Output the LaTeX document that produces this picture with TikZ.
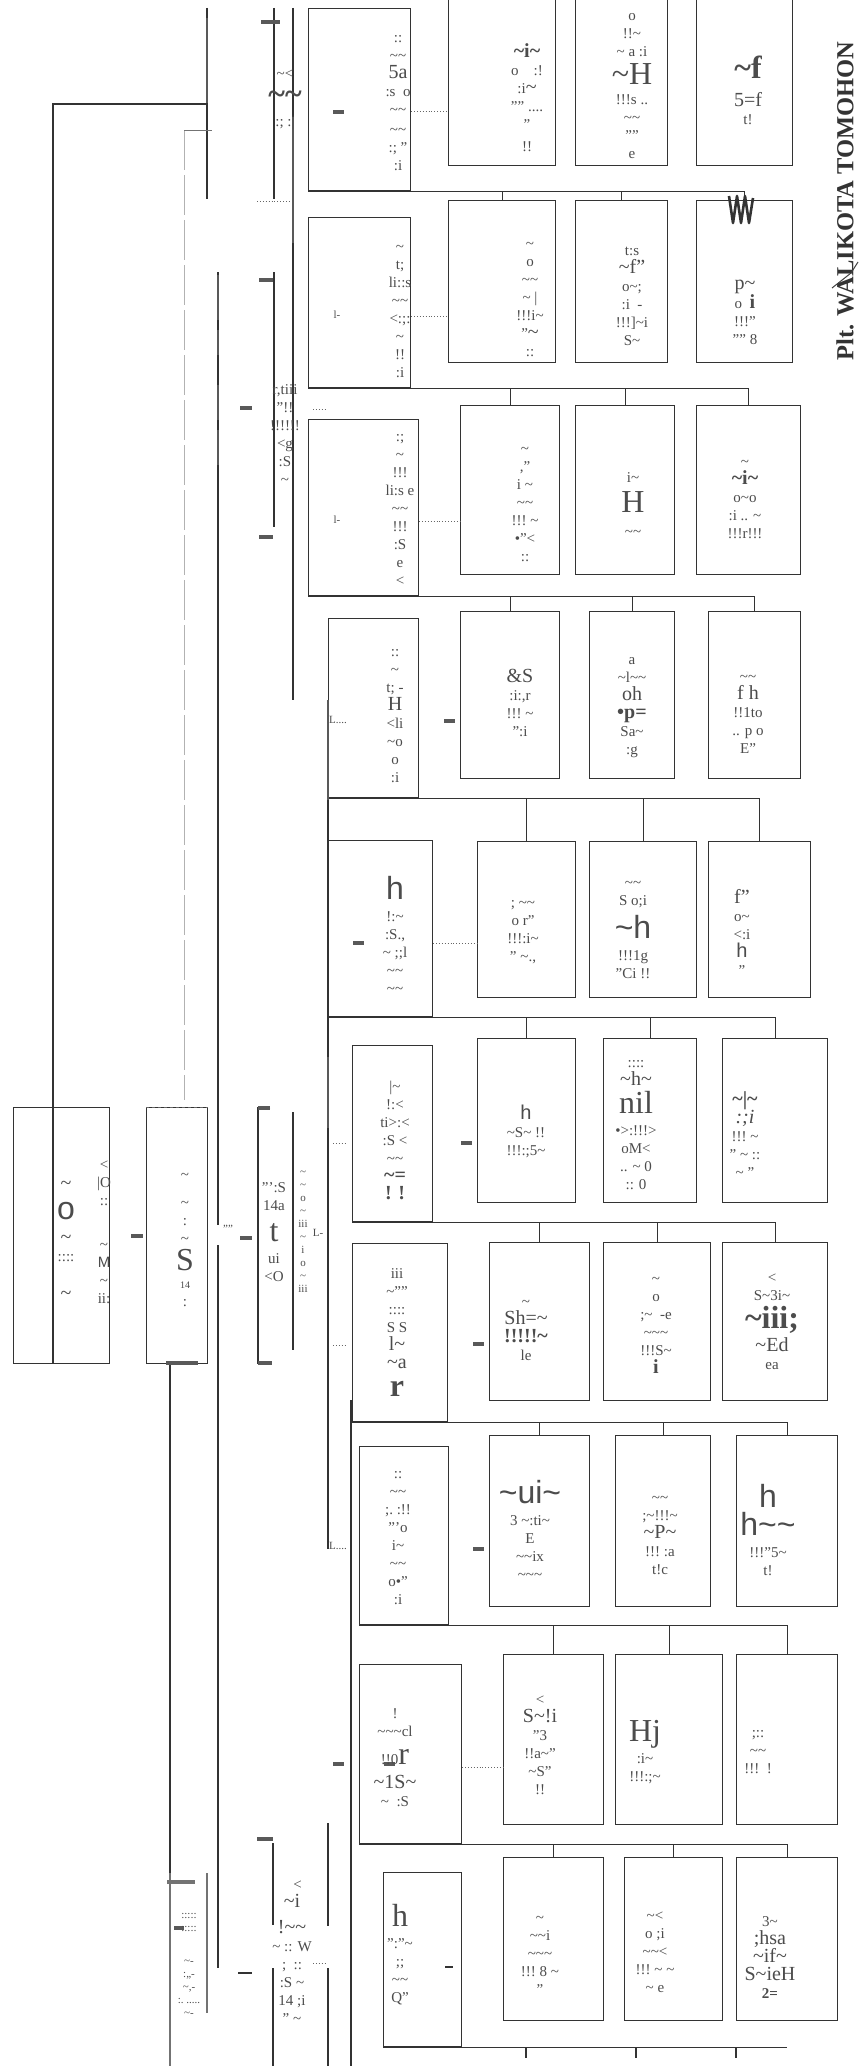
\documentclass[tikz,border=0pt]{standalone}
\usepackage{fontspec}
\setmainfont{Liberation Serif}
\setsansfont{Liberation Sans}
\usetikzlibrary{calc}
\newcommand\tld{\textasciitilde}
\newcommand\Bgg[1]{{\fontsize{32}{34}\selectfont #1}}
\newcommand\Mdd[1]{{\fontsize{20}{22}\selectfont #1}}
\newcommand\bxn[5]{\node[bx,minimum width={(#4-#2)*1pt},minimum height={(#5-#3)*1pt}] (#1) at (#2,#3) {};}
\begin{document}
\begin{tikzpicture}[x=1pt,y=-1pt,
 bx/.style={draw=black!80,line width=1.1pt,inner sep=0,anchor=north west},
 ln/.style={draw=black!80,line width=1.1pt},
 gln/.style={draw=black!55,line width=1.1pt},
 thk/.style={draw=black!65,line width=3.5pt},
 dots/.style={draw=black!60,line width=0.9pt,dotted},
 gdash/.style={draw=black!30,line width=1pt,dash pattern=on 40pt off 5pt},
 txt/.style={text=black!70,align=center,inner sep=0,font=\fontsize{15}{18}\selectfont},
 stxt/.style={text=black!70,align=center,inner sep=0,font=\fontsize{11}{13}\selectfont},
]
\fill[white] (0,0) rectangle (859,2066);
\useasboundingbox (0,0) rectangle (859,2066);

% ---------- row header boxes
\bxn{E1}{308}{8}{410}{190}
\bxn{E2}{308}{217}{410}{387}
\bxn{E3}{308}{419}{418}{595}
\bxn{E4}{328}{618}{418}{797}
\bxn{E5}{328}{840}{432}{1016}
\bxn{E6}{352}{1045}{432}{1221}
\bxn{E7}{352}{1243}{447}{1421}
\bxn{E8}{359}{1446}{448}{1624}
\bxn{E9}{359}{1664}{461}{1843}
\bxn{E10}{383}{1872}{461}{2046}
% ---------- unit boxes
\bxn{F1}{448}{-3}{555}{165}\bxn{G1}{575}{-3}{667}{165}\bxn{H1}{696}{-3}{792}{165}
\bxn{F2}{448}{200}{555}{362}\bxn{G2}{575}{200}{667}{362}\bxn{H2}{696}{200}{792}{362}
\bxn{F3}{460}{405}{559}{574}\bxn{G3}{575}{405}{674}{574}\bxn{H3}{696}{405}{800}{574}
\bxn{F4}{460}{611}{559}{778}\bxn{G4}{589}{611}{674}{778}\bxn{H4}{708}{611}{800}{778}
\bxn{F5}{477}{841}{575}{997}\bxn{G5}{589}{841}{696}{997}\bxn{H5}{708}{841}{810}{997}
\bxn{F6}{477}{1038}{575}{1202}\bxn{G6}{603}{1038}{696}{1202}\bxn{H6}{722}{1038}{827}{1202}
\bxn{F7}{489}{1242}{589}{1400}\bxn{G7}{603}{1242}{710}{1400}\bxn{H7}{722}{1242}{827}{1400}
\bxn{F8}{489}{1435}{589}{1606}\bxn{G8}{615}{1435}{710}{1606}\bxn{H8}{736}{1435}{837}{1606}
\bxn{F9}{503}{1654}{603}{1824}\bxn{G9}{615}{1654}{722}{1824}\bxn{H9}{736}{1654}{837}{1824}
\bxn{F10}{503}{1857}{603}{2020}\bxn{G10}{624}{1857}{722}{2020}\bxn{H10}{736}{1857}{837}{2020}

% ---------- buses under each row, ticks to next row
\foreach \a/\b in {1/2,2/3,3/4,4/5,5/6,6/7,7/8,8/9,9/10}{
  \draw[ln] (E\a.south west) -- (E\a.south west -| H\b.north);
  \foreach \nn in {F\b,G\b,H\b} \draw[ln] (\nn.north |- E\a.south) -- (\nn.north);
}
\coordinate (b10e) at (787,2066);
\draw[ln] (E10.south west) -- (E10.south west -| b10e);
\foreach \xx in {526,636,736}{\coordinate (tk) at (\xx,2058); \draw[ln] (tk |- E10.south) -- (tk);}

% ---------- header to unit connectors
\foreach \r/\yy in {1/111,2/316,3/521,5/943,9/1767}{
  \coordinate (c\r) at (0,\yy);
  \draw[dots] (E\r.east |- c\r) -- (F\r.west |- c\r);
}
\foreach \r/\yy in {4/721,6/1143,7/1344,8/1549}{
  \coordinate (c\r) at (0,\yy);
  \draw[thk] ($(F\r.west |- c\r)+(-16,0)$) -- ($(F\r.west |- c\r)+(-5,0)$);
}
\coordinate (c10) at (0,1967);
\draw[ln] ($(F10.west |- c10)+(-58,0)$) -- ($(F10.west |- c10)+(-50,0)$);
\foreach \r/\yy in {1/112,5/943,9/1764}{
  \coordinate (d\r) at (0,\yy);
  \draw[thk] ($(E\r.west |- d\r)+(25,0)$) -- ($(E\r.west |- d\r)+(36,0)$);
}

% ---------- left boxes
\bxn{A}{13}{1107}{109}{1363}
\coordinate (Adt) at (53,1107); \coordinate (Adb) at (53,1363);
\draw[ln] (Adt) -- (Adb);
\bxn{B}{146}{1107}{207}{1363}
\coordinate (c1a) at (270,1108); \coordinate (c2a) at (258,1108);
\coordinate (c3a) at (258,1363); \coordinate (c4a) at (272,1363);
\draw[ln] (c1a) -- (c2a) -- (c3a) -- (c4a);
\draw[thk] (c2a) -- (c1a); \draw[thk] (c3a) -- (c4a);
\coordinate (cr1) at (293,1112); \coordinate (cr2) at (293,1350);
\draw[ln] (cr1) -- (cr2);

% main trunk
\coordinate (j1) at (207,104);
\draw[ln] (Adt) |- (j1);
\coordinate (s1a) at (207,8); \coordinate (s1b) at (207,199);
\draw[ln] (s1a) -- (s1b);
\draw[thk,line width=2pt] (207,18) -- (207,103);
% grey dashed line to B
\coordinate (g1) at (184,130); \coordinate (g2) at (184,1100); \coordinate (g3) at (212,130);
\draw[gdash] (g1) -- (g2);
\draw[gln,line width=1pt] (g1) -- (g3);
\draw[dashed,black!60] (B.north west) -- (B.north east);
% A - B - C
\coordinate (ab1) at (131,1236); \coordinate (ab2) at (143,1236);
\draw[thk] (ab1) -- (ab2);
\coordinate (bc1) at (240,1238); \coordinate (bc2) at (252,1238);
\draw[thk] (bc1) -- (bc2);
\node[stxt] (bcd) at (228,1229) {''''};
\node[stxt] (cL) at (318,1233) {L-};
% long verticals
\coordinate (v1a) at (218,272); \coordinate (v1b) at (218,1225);
\coordinate (v1c) at (218,1245); \coordinate (v1d) at (218,1968);
\draw[ln] (v1a) -- (v1b); \draw[ln] (v1c) -- (v1d);
\draw[thk,line width=2pt] (218,275) -- (218,320); \draw[thk,line width=2pt] (218,330) -- (218,355);
\draw[thk,line width=2pt] (218,385) -- (218,420); \draw[thk,line width=2pt] (218,430) -- (218,465);
\coordinate (v2a) at (170,1363); \coordinate (v2b) at (170,2066);
\draw[ln] (B.south west -| v2a) -- (v2b);
\draw[thk] (166,1363) -- (198,1363);
\draw[gln,line width=2.5pt] (170,1873) -- (170,2066);
\coordinate (v3a) at (293,8); \coordinate (v3b) at (293,700);
\draw[ln] (v3a) -- (v3b);
\draw[thk,line width=2.5pt] (293,117) -- (293,243);
\coordinate (v4a) at (328,700); \coordinate (v4b) at (328,1549);
\draw[ln] (v4a) -- (v4b);
\draw[ln] (328,1823) -- (328,1926); \draw[ln] (328,1968) -- (328,2066);
\draw[thk,line width=2pt] (328,700) -- (328,800);
\draw[thk,line width=2pt] (328,1057) -- (328,1128);
\coordinate (v5a) at (351,1400); \coordinate (v5b) at (351,2066);
\draw[ln] (v5a) -- (v5b);
% sub-header brackets
\draw[ln] (274,8) -- (274,199); \draw[thk] (261,22) -- (280,22);
\draw[ln] (274,272) -- (274,527); \draw[thk] (259,280) -- (273,280); \draw[thk] (259,537) -- (273,537);
\draw[thk] (240,408) -- (252,408);
\draw[ln] (273,1843) -- (273,1925); \draw[ln] (273,1968) -- (273,2066); \draw[thk] (257,1839) -- (273,1839);
\draw[ln] (238,1973) -- (252,1973);
\draw[thk,black!55] (167,1882) -- (195,1882);
\draw[gln] (207,1873) -- (207,2013);
\draw[thk] (174,1928) -- (184,1928);
% small dotted stubs
\draw[dots] (313,409) -- (327,409);
\draw[dots] (257,201) -- (290,201);
\draw[dots] (333,1143) -- (347,1143);
\draw[dots] (333,1345) -- (347,1345);
\draw[dots] (313,1963) -- (327,1963);
\draw[thk] (333,1764) -- (344,1764);
\node[stxt] (l2) at (337,315) {l-};
\node[stxt] (l3) at (337,520) {l-};
\node[stxt] (l4) at (338,720) {L....};
\node[stxt] (l8) at (338,1546) {L....};

% ---------- texts
\node[txt] (tE1) at (398,103) {::\\\tld\tld\\\Mdd{5a}\\:s\ \ o\\\tld\tld\\[2pt]\tld\tld\\:;\ ''\\:i};
\node[txt] (tF1) at (527,98) {\Mdd{\bfseries\tld i\tld}\\o\quad :!\\:i\Mdd{\tld}\\'''' ....\\''\\[4pt]!!};
\node[txt] (tG1) at (632,86) {o\\!!\tld\\\tld\ a :i\\[6pt]\Bgg{\tld H}\\[2pt]!!!s ..\\\tld\tld\\''''\\e};
\node[txt] (tH1) at (748,90) {\Bgg{\bfseries\tld f}\\[10pt]\Mdd{5=f}\\t!};

\node[txt] (tE2) at (400,312) {\tld\\t;\\li::s\\\tld\tld\\<:;:\\\tld\\!!\\:i};
\node[txt] (tF2) at (530,300) {\tld\\o\\\tld\tld\\\tld\ |\\!!!i\tld\\''\Mdd{\tld}\\::};
\node[txt] (tG2) at (632,296) {t:s\\\Mdd{\tld f''}\\o\tld;\\:i\ \ -\\!!!]\tld i\\S\tld};
\node[txt] (tH2) at (745,312) {\Mdd{p\tld}\\o\ \ \Mdd{\bfseries i}\\!!!''\\'''' 8};

\node[txt] (tE3) at (400,510) {:;\\\tld\\!!!\\li:s e\\\tld\tld\\!!!\\:S\\e\\<};
\node[txt] (tF3) at (525,505) {\tld\\,''\\i \tld\\\tld\tld\\!!!\ \tld\\\textbullet''<\\::};
\node[txt] (tG3) at (633,505) {i\tld\\[8pt]\Bgg{H}\\[6pt]\tld\tld};
\node[txt] (tH3) at (745,500) {\tld\\\Mdd{\bfseries\tld i\tld}\\o\tld o\\:i .. \tld\\!!!r!!!};

\node[txt] (tE4) at (395,716) {::\\\tld\\t;\ -\\\Mdd{H}\\<li\\\tld o\\o\\:i};
\node[txt] (tF4) at (520,703) {\Mdd{\&S}\\:i:,r\\!!!\ \tld\\'':i};
\node[txt] (tG4) at (632,708) {a\\\tld l\tld\tld\\\Mdd{oh}\\\Mdd{\bfseries\textbullet p=}\\Sa\tld\\:g};
\node[txt] (tH4) at (748,714) {\tld\tld\\\Mdd{f h}\\!!1to\\.. p o\\E''};

\node[txt] (tE5) at (395,935) {\Bgg{\sffamily h}\\[4pt]!:\tld\\:S.,\\\tld\ ;;l\\\tld\tld\\\tld\tld};
\node[txt] (tF5) at (523,932) {;\ \tld\tld\\o r''\\!!!:i\tld\\''\ \tld.,};
\node[txt] (tG5) at (633,930) {\tld\tld\\S o;i\\[6pt]\Bgg{\sffamily\tld h}\\[4pt]!!!1g\\''Ci !!};
\node[txt] (tH5) at (742,932) {\Mdd{f''}\\o\tld\\<:i\\\Mdd{\sffamily h}\\''};

\node[txt] (tE6) at (395,1140) {|\tld\\!:<\\ti>:<\\:S <\\\tld\tld\\\Mdd{\bfseries\tld=}\\\Mdd{\bfseries ! !}};
\node[txt] (tF6) at (526,1131) {\Mdd{\sffamily h}\\\tld S\tld\ !!\\!!!:;5\tld};
\node[txt] (tG6) at (636,1125) {::::\\\Mdd{\tld h\tld}\\[4pt]\Bgg{nil}\\[4pt]\textbullet>:!!!>\\oM<\\.. \tld\ 0\\:: 0};
\node[txt] (tH6) at (745,1135) {\Mdd{\bfseries\tld|\tld}\\\Mdd{\itshape :;i}\\!!!\ \tld\\''\ \tld\ ::\\\tld\ ''};

\node[txt] (tE7) at (397,1333) {iii\\\tld''''\\::::\\S\ S\\\Mdd{l\tld}\\\Mdd{\tld a}\\[10pt]\Bgg{\bfseries r}};
\node[txt] (tF7) at (526,1330) {\tld\\\Mdd{Sh=\tld}\\\Mdd{\bfseries !!!!!\tld}\\le};
\node[txt] (tG7) at (656,1325) {\tld\\o\\;\tld\ \ -e\\\tld\tld\tld\\!!!S\tld\\\Mdd{\bfseries i}};
\node[txt] (tH7) at (772,1322) {<\\S\tld3i\tld\\[4pt]\Bgg{\bfseries\tld iii;}\\[4pt]\Mdd{\tld Ed}\\ea};

\node[txt] (tE8) at (398,1538) {::\\\tld\tld\\;.\ :!!\\'''o\\i\tld\\\tld\tld\\o\textbullet''\\:i};
\node[txt] (tF8) at (530,1530) {\Bgg{\sffamily\tld ui\tld}\\[4pt]3\ \tld:ti\tld\\E\\\tld\tld ix\\\tld\tld\tld};
\node[txt] (tG8) at (660,1535) {\tld\tld\\;\tld!!!\tld\\\Mdd{\tld P\tld}\\!!!\ :a\\t!c};
\node[txt] (tH8) at (768,1530) {\Bgg{\sffamily h}\\[4pt]\Bgg{\sffamily h\tld\tld}\\[4pt]!!!''5\tld\\t!};

\node[txt] (tE9) at (395,1758) {!\\\tld\tld\tld cl\\[10pt]!!0\Bgg{r}\\[6pt]\Mdd{\tld 1S\tld}\\\tld\ \ :S};
\node[txt] (tF9) at (540,1745) {<\\\Mdd{S\tld!i}\\''3\\!!a\tld''\\\tld S''\\!!};
\node[txt] (tG9) at (645,1752) {\Bgg{Hj}\\[4pt]:i\tld\\!!!:;\tld};
\node[txt] (tH9) at (758,1752) {;::\\\tld\tld\\!!!\ \ !};

\node[txt] (tE10) at (400,1955) {\Bgg{h}\\[4pt]'':''\tld\\;;\\\tld\tld\\Q''};
\node[txt] (tF10) at (540,1955) {\tld\\\tld\tld i\\\tld\tld\tld\\!!!\ 8\ \tld\\''};
\node[txt] (tG10) at (655,1952) {\tld<\\o\ ;i\\\tld\tld<\\!!!\ \tld\ \tld\\\tld\ e};
\node[txt] (tH10) at (770,1958) {3\tld\\\Mdd{;hsa}\\\Mdd{\tld if\tld}\\\Mdd{S\tld ieH}\\\bfseries 2=};

\node[txt] (tA1) at (66,1240) {\Mdd{\tld}\\[12pt]\Bgg{\sffamily o}\\[6pt]\Mdd{\tld}\\::::\\[20pt]\Mdd{\tld}};
\node[txt] (tA2) at (104,1232) {<\\|O\\::\\[26pt]\tld\\{\sffamily M}\\\tld\\ii:};
\node[txt] (tB) at (185,1240) {\tld\\[10pt]\tld\\:\\\tld\\[4pt]\Bgg{S}\\{\fontsize{10}{11}\selectfont 14}\\:};
\node[txt] (tC1) at (274,1232) {''':S\\14a\\[12pt]\Bgg{t}\\[4pt]ui\\<O};
\node[stxt] (tC2) at (303,1232) {\tld\\\tld\\o\\\tld\\iii\\\tld\\i\\o\\\tld\\iii};
\node[txt] (tS1) at (285,100) {\tld<\\[8pt]\Bgg{\bfseries\tld\tld}\\[4pt]:;\ :|};
\node[txt] (tS2) at (285,435) {r,tiii\\''!!\\!!!!!!\\<g\\:S\\\tld};
\node[txt] (tS3) at (292,1952) {\ \ \ <\\\Mdd{\tld i}\\[8pt]\Mdd{!\tld\tld}\\\tld\ :: W\\;\ \ ::\\:S\ \tld\\14\ ;i\\''\ \tld};
\node[stxt] (tS4) at (189,1965) {:::::\\:::::\\[20pt]\tld-\\:,,-\\\tld,-\\:.\ .....\\\tld-};

% ---------- title and signature
\node[rotate=90,text=black!80,inner sep=0,font=\fontsize{24.5}{26}\selectfont\bfseries] (title) at (845,201) {Plt. WALIKOTA TOMOHON};
\draw[black!80,line width=2.6pt,line join=round] (729,196) -- (733,223) -- (737,196) -- (741,223) -- (745,196) -- (749,223) -- (753,198);
\draw[black!75,line width=1pt] (832,288) -- (851,273) -- (858,262);
\end{tikzpicture}
\end{document}
